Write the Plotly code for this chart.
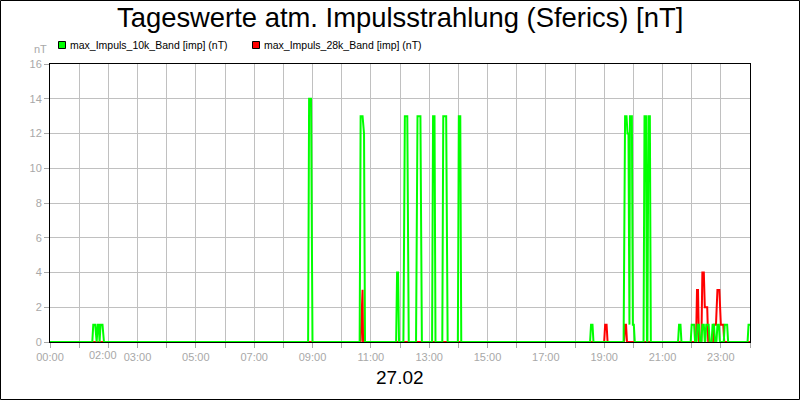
import plotly.graph_objects as go

# ---------------- data ----------------
# minutes of day (27.02) and values in nT
green_minutes = [0, 87, 89, 93, 96, 98, 100, 102, 104, 108, 111,
                 531, 533, 537, 540,
                 637, 639, 643, 646, 648,
                 712, 714, 716, 718,
                 727, 730, 735, 738,
                 753, 756, 762, 765,
                 786, 788, 791, 793,
                 807, 809, 815, 818,
                 839, 841, 844, 846,
                 1111, 1113, 1116, 1118,
                 1180, 1183, 1186, 1188, 1190, 1192, 1193, 1197, 1199, 1201, 1203,
                 1221, 1223, 1226, 1228, 1229, 1231, 1234, 1236,
                 1292, 1294, 1297, 1299,
                 1318, 1320, 1325, 1327, 1330, 1332, 1335, 1337,
                 1340, 1342, 1345, 1347, 1348, 1350, 1355, 1357,
                 1361, 1363, 1366, 1368, 1371, 1373, 1376, 1378,
                 1386, 1388, 1393, 1395,
                 1435, 1437, 1440]
green_values = [0, 0, 1, 1, 0, 1, 1, 0, 1, 1, 0,
                0, 14, 14, 0,
                0, 13, 13, 12, 0,
                0, 4, 4, 0,
                0, 13, 13, 0,
                0, 13, 13, 0,
                0, 13, 13, 0,
                0, 13, 13, 0,
                0, 13, 13, 0,
                0, 1, 1, 0,
                0, 13, 13, 12, 12, 1, 13, 13, 1, 1, 0,
                0, 13, 13, 0, 0, 13, 13, 0,
                0, 1, 1, 0,
                0, 1, 1, 0, 0, 1, 1, 0,
                0, 1, 1, 0, 0, 1, 1, 0,
                0, 1, 1, 0, 0, 1, 1, 0,
                0, 1, 1, 0,
                0, 1, 1]

red_minutes = [0, 639, 643, 644,
               1140, 1142, 1145, 1147,
               1181, 1183, 1185, 1187,
               1329, 1331, 1333, 1335,
               1340, 1342, 1345, 1347, 1352, 1354,
               1364, 1366, 1370, 1373, 1377, 1380, 1385, 1387,
               1440]
red_values = [0, 0, 3, 0,
              0, 1, 1, 0,
              0, 1, 1, 0,
              0, 3, 3, 0,
              0, 4, 4, 2, 2, 0,
              0, 1, 1, 3, 3, 1, 1, 0,
              0]

hour_ticks = list(range(0, 25))
hour_labels = ["00:00", "", "", "03:00", "", "05:00", "", "07:00", "", "09:00", "",
               "11:00", "", "13:00", "", "15:00", "", "17:00", "", "19:00", "",
               "21:00", "", "23:00", ""]
extra_label = "02:00"
extra_label_pos = 1.83
y_ticks = [0, 2, 4, 6, 8, 10, 12, 14, 16]

title_text = "Tageswerte atm. Impulsstrahlung (Sferics) [nT]"
series_names = ["max_Impuls_10k_Band [imp] (nT)", "max_Impuls_28k_Band [imp] (nT)"]
date_label = "27.02"
unit_label = "nT"

# ---------------- layout helpers ----------------
W, H = 800, 400
L, R, T, B = 50, 50, 64, 58
PW, PH = W - L - R, H - T - B


def px(x):
    return (x - L) / PW


def py(y):
    return (H - B - y) / PH


FONT = "Liberation Sans, Arial, sans-serif"
GRAY = "#a8a8a8"
GRID = "#c0c0c0"
GREEN = "#00ff00"
RED = "#ff0000"

fig = go.Figure()
fig.add_trace(go.Scatter(x=[m / 60 for m in red_minutes], y=red_values, mode="lines",
                         line=dict(color=RED, width=2), name=series_names[1],
                         showlegend=False, hoverinfo="skip"))
fig.add_trace(go.Scatter(x=[m / 60 for m in green_minutes], y=green_values, mode="lines",
                         line=dict(color=GREEN, width=2), name=series_names[0],
                         showlegend=False, hoverinfo="skip"))

axis_common = dict(showline=True, linecolor="black", linewidth=1, mirror=True,
                   ticks="outside", ticklen=5, tickcolor=GRAY,
                   tickfont=dict(family=FONT, size=11, color=GRAY),
                   showgrid=True, gridcolor=GRID, gridwidth=1, zeroline=False)

fig.update_xaxes(range=[0, 24], tickmode="array", tickvals=hour_ticks, ticktext=hour_labels,
                 **axis_common)
fig.update_yaxes(range=[0, 16], tickmode="array", tickvals=y_ticks,
                 ticktext=[str(v) for v in y_ticks], **axis_common)

annotations = [
    dict(text=title_text, x=0.5, xref="paper", y=py(17.5), yref="paper",
         xanchor="center", yanchor="middle", showarrow=False,
         font=dict(family=FONT, size=27.4, color="black")),
    dict(text=series_names[0], x=px(68), xref="paper", y=py(44.5), yref="paper",
         xanchor="left", yanchor="middle", showarrow=False,
         font=dict(family=FONT, size=10.5, color="black")),
    dict(text=series_names[1], x=px(262), xref="paper", y=py(44.5), yref="paper",
         xanchor="left", yanchor="middle", showarrow=False,
         font=dict(family=FONT, size=10.5, color="black")),
    dict(text=unit_label, x=px(48.5), xref="paper", y=py(49), yref="paper",
         xanchor="right", yanchor="middle", showarrow=False,
         font=dict(family=FONT, size=11, color=GRAY)),
    dict(text=extra_label, x=extra_label_pos, xref="x", y=py(355), yref="paper",
         xanchor="center", yanchor="middle", showarrow=False,
         font=dict(family=FONT, size=11, color=GRAY)),
    dict(text=date_label, x=0.5, xref="paper", y=py(377), yref="paper",
         xanchor="center", yanchor="middle", showarrow=False,
         font=dict(family=FONT, size=19, color="black")),
]

shapes = [
    dict(type="rect", xref="paper", yref="paper", x0=px(0.5), x1=px(799.5),
         y0=py(399.5), y1=py(0.5), line=dict(color="black", width=1), fillcolor="rgba(0,0,0,0)"),
    dict(type="rect", xref="paper", yref="paper", x0=px(58.5), x1=px(65.5),
         y0=py(48.5), y1=py(41.5), line=dict(color="black", width=1), fillcolor=GREEN),
    dict(type="rect", xref="paper", yref="paper", x0=px(252.5), x1=px(259.5),
         y0=py(48.5), y1=py(41.5), line=dict(color="black", width=1), fillcolor=RED),
]

fig.update_layout(width=W, height=H, autosize=False,
                  margin=dict(l=L, r=R, t=T, b=B, pad=0),
                  paper_bgcolor="white", plot_bgcolor="white",
                  font=dict(family=FONT),
                  annotations=annotations, shapes=shapes, showlegend=False)

fig.write_html("out.html", config={"displayModeBar": False},
               post_script="document.body.style.margin='0';document.body.style.overflow='hidden';")
